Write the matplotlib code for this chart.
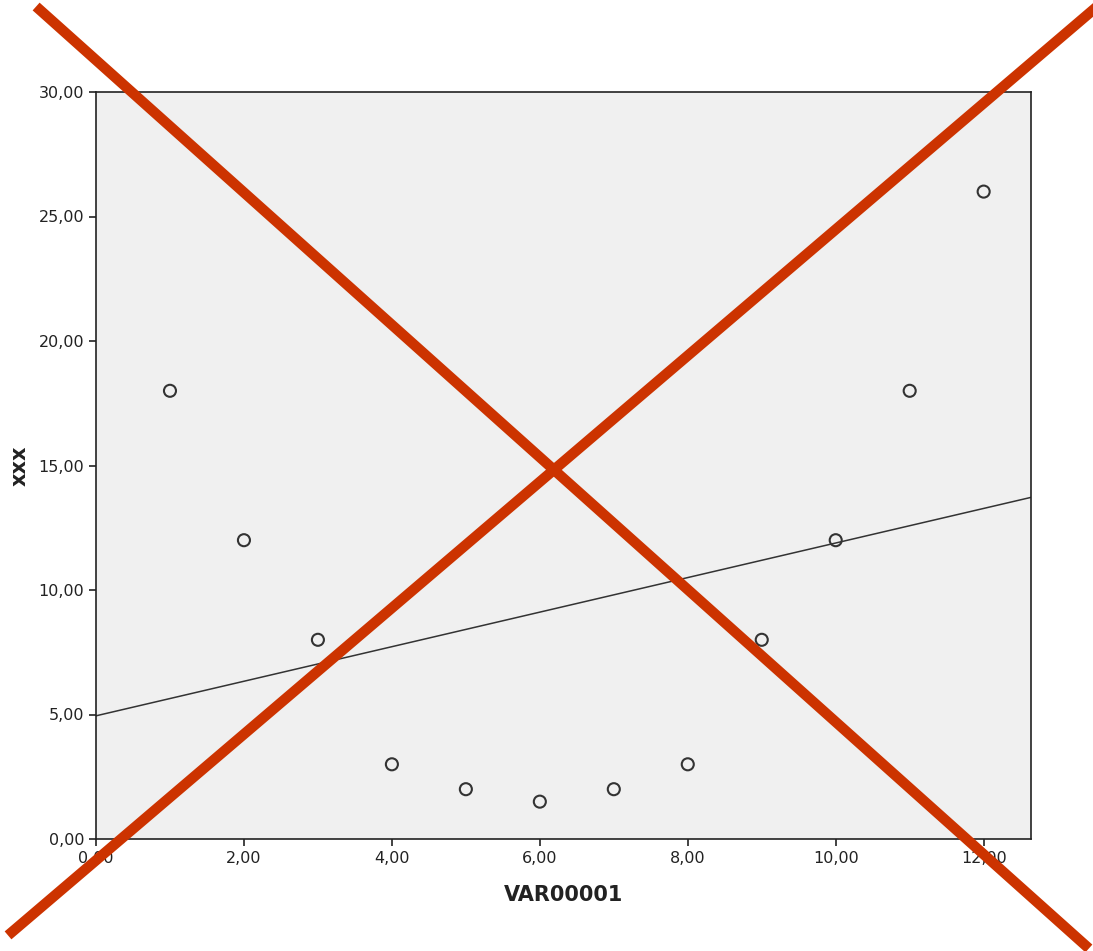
import numpy as np
import matplotlib.pyplot as plt
from matplotlib.lines import Line2D

var00001 = [1, 2, 3, 4, 5, 6, 7, 8, 9, 10, 11, 12]
xxx = [18, 12, 8, 3, 2, 1.5, 2, 3, 8, 12, 18, 26]
x_ticks = [0, 2, 4, 6, 8, 10, 12]
y_ticks = [0, 5, 10, 15, 20, 25, 30]

fig = plt.figure(figsize=(10.93, 9.51), dpi=100)
ax = fig.add_axes([96 / 1093, 112 / 951, 935 / 1093, 747 / 951])
ax.set_facecolor('#f0f0f0')

ax.scatter(var00001, xxx, s=75, facecolors='none', edgecolors='#333333', linewidths=1.5, zorder=3)

# linear fit line across full x range
slope, intercept = np.polyfit(var00001, xxx, 1)
xs = np.array([0, 12.64])
ax.plot(xs, intercept + slope * xs, color='#333333', lw=1.1, zorder=2)

ax.set_xlim(0, 12.64)
ax.set_ylim(0, 30)
ax.set_xticks(x_ticks)
ax.set_yticks(y_ticks)
ax.set_xticklabels([f'{v:.2f}'.replace('.', ',') for v in x_ticks], fontsize=11.5, color='#222222')
ax.set_yticklabels([f'{v:.2f}'.replace('.', ',') for v in y_ticks], fontsize=11.5, color='#222222')
ax.tick_params(direction='out', length=5, width=1.2, color='#222222')
for s in ax.spines.values():
    s.set_linewidth(1.2)
    s.set_color('#222222')
ax.set_xlabel('VAR00001', fontsize=15, fontweight='bold', color='#222222', labelpad=14)
ax.set_ylabel('xxx', fontsize=15, fontweight='bold', color='#222222', labelpad=6)

# red cross over the whole figure
red = '#cc3300'
fig.add_artist(Line2D([40 / 1093, 1085 / 1093], [1 - 10 / 951, 1 - 945 / 951],
                      color=red, lw=7.5, transform=fig.transFigure, zorder=10))
fig.add_artist(Line2D([12 / 1093, 1093 / 1093], [1 - 932 / 951, 1 - 10 / 951],
                      color=red, lw=7.5, transform=fig.transFigure, zorder=10))

fig.savefig('out.png', dpi=100, facecolor='white')
